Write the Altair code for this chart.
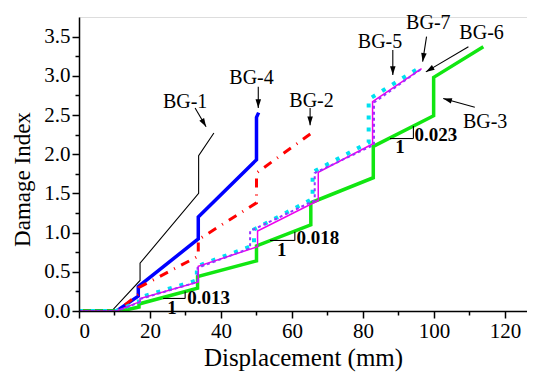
import altair as alt
import pandas as pd
import math

FONT = "'Liberation Serif', 'Times New Roman', Times, serif"

# ---------------- data ----------------
bg1_x = [0, 9.2, 17.2, 17.2, 33.7, 33.7, 38.0]
bg1_y = [0, 0, 0.39, 0.61, 1.50, 1.98, 2.27]

bg4_x = [0, 10.6, 16.7, 16.7, 33.6, 33.6, 50.0, 50.0, 50.6]
bg4_y = [0, 0, 0.19, 0.31, 0.92, 1.20, 1.93, 2.47, 2.53]

bg2_x = [0, 10.8, 16.9, 16.9, 33.6, 33.6, 50.0, 50.0, 65.5]
bg2_y = [0, 0, 0.22, 0.30, 0.70, 0.91, 1.38, 1.76, 2.27]

bg3_x = [0, 11.8, 16.9, 16.9, 33.4, 33.4, 50.0, 50.0, 65.3, 65.3, 82.9, 82.9, 99.9, 99.9, 113.9]
bg3_y = [0, 0, 0.05, 0.09, 0.29, 0.44, 0.64, 0.83, 1.10, 1.38, 1.70, 2.10, 2.49, 2.98, 3.37]

bg5_x = [0, 10.4, 16.9, 16.9, 33.2, 33.2, 49.3, 49.3, 65.8, 65.8, 81.6, 81.6, 95.8]
bg5_y = [0, 0, 0.12, 0.17, 0.39, 0.57, 0.84, 1.04, 1.43, 1.77, 2.15, 2.70, 3.10]

bg6_x = [0, 10.8, 17.0, 17.0, 33.4, 33.4, 48.2, 48.2, 66.4, 66.4, 83.1, 83.1, 96.8]
bg6_y = [0, 0, 0.11, 0.15, 0.37, 0.55, 0.80, 1.02, 1.41, 1.76, 2.12, 2.66, 3.10]

bg7_x = [0, 10.6, 17.2, 17.2, 33.6, 33.6, 50.3, 50.3, 67.4, 67.4, 82.7, 82.7, 96.5]
bg7_y = [0, 0, 0.12, 0.16, 0.37, 0.57, 0.82, 1.02, 1.41, 1.77, 2.13, 2.67, 3.09]

# labels (text, x, y) in data units
label_text = ["BG-1", "BG-4", "BG-2", "BG-5", "BG-7", "BG-6", "BG-3"]
label_x = [29.9, 48.6, 65.5, 84.8, 98.4, 113.4, 114.4]
label_y = [2.67, 2.97, 2.68, 3.43, 3.67, 3.54, 2.41]

# arrows tail -> tip in data units
arrow_x0 = [32.7, 50.5, 65.1, 88.4, 97.9, 109.7, 111.5]
arrow_y0 = [2.59, 2.86, 2.59, 3.33, 3.50, 3.37, 2.60]
arrow_x1 = [35.8, 50.5, 65.1, 88.4, 96.8, 97.7, 102.6]
arrow_y1 = [2.35, 2.59, 2.37, 3.01, 3.18, 3.05, 2.71]

# slope triangles
slope_text = ["0.013", "0.018", "0.023"]
slope_xa = [23.7, 53.8, 87.6]   # horizontal leg start
slope_xb = [29.9, 60.8, 94.2]   # horizontal leg end / vertical leg x
slope_ya = [0.16, 0.90, 2.20]   # horizontal leg y
slope_yb = [0.25, 1.01, 2.36]   # vertical leg top
slope_lx = [30.5, 61.3, 94.5]
slope_ly = [0.17, 0.93, 2.24]
one_x = [26.2, 57.1, 90.4]
one_y = [0.04, 0.78, 2.09]

x_major = [0, 20, 40, 60, 80, 100, 120]
x_minor = [10, 30, 50, 70, 90, 110]
y_major = [0, 0.5, 1.0, 1.5, 2.0, 2.5, 3.0, 3.5]
y_minor = [0.25, 0.75, 1.25, 1.75, 2.25, 2.75, 3.25]

XDOM = [0, 126.2]
YDOM = [0, 3.75]

xs = alt.Scale(domain=XDOM, nice=False, zero=False)
ys = alt.Scale(domain=YDOM, nice=False, zero=False)

no_axis = None


def series(xv, yv, color, width, dash=None):
    df = pd.DataFrame({"x": xv, "y": yv, "i": list(range(len(xv)))})
    kw = dict(color=color, strokeWidth=width, clip=True)
    if dash:
        kw["strokeDash"] = dash
    return alt.Chart(df).mark_line(**kw).encode(
        x=alt.X("x:Q", scale=xs, axis=no_axis),
        y=alt.Y("y:Q", scale=ys, axis=no_axis),
        order="i:O",
    )


lines = [
    series(bg1_x, bg1_y, "#000000", 1.1),
    series(bg4_x, bg4_y, "#0000FF", 3.5),
    series(bg2_x, bg2_y, "#FF0000", 3, [9, 7, 1, 7]),
    series(bg3_x, bg3_y, "#11E611", 3.5),
    series(bg5_x, bg5_y, "#00E0F0", 4, [4, 8]),
    series(bg7_x, bg7_y, "#EE00EE", 1.5),
    series(bg6_x, bg6_y, "#9933FF", 2, [3, 3]),
]

# axes layers
base_axis = dict(
    domainColor="black", domainWidth=1.5, tickColor="black", tickWidth=1.5,
    labelFont=FONT, labelFontSize=21, labelColor="black",
    titleFont=FONT, titleFontWeight="normal", titleColor="black",
    grid=False, zindex=1,
)

axis_df = pd.DataFrame({"x": [XDOM[0]], "y": [YDOM[0]]})
axes_major = alt.Chart(axis_df).mark_point(opacity=0).encode(
    x=alt.X("x:Q", scale=xs, title="Displacement (mm)",
            axis=alt.Axis(values=x_major, tickSize=7, orient="bottom", labelPadding=2,
                          titlePadding=4, titleFontSize=25, format="d", **base_axis)),
    y=alt.Y("y:Q", scale=ys, title="Damage Index",
            axis=alt.Axis(values=y_major, tickSize=7, orient="left", labelPadding=2,
                          titlePadding=9, titleY=162, titleFontSize=23, format=".1f",
                          **base_axis)),
)
axes_minor = alt.Chart(axis_df).mark_point(opacity=0).encode(
    x=alt.X("x:Q", scale=xs, title=None,
            axis=alt.Axis(values=x_minor, tickSize=4, orient="bottom", labels=False,
                          domain=False, tickColor="black", tickWidth=1.5, grid=False, zindex=1)),
    y=alt.Y("y:Q", scale=ys, title=None,
            axis=alt.Axis(values=y_minor, tickSize=4, orient="left", labels=False,
                          domain=False, tickColor="black", tickWidth=1.5, grid=False, zindex=1)),
)

# labels
lab_df = pd.DataFrame({"t": label_text, "x": label_x, "y": label_y})
labels = alt.Chart(lab_df).mark_text(font=FONT, fontSize=20, color="black",
                                     align="center", baseline="middle").encode(
    x=alt.X("x:Q", scale=xs, axis=no_axis), y=alt.Y("y:Q", scale=ys, axis=no_axis), text="t:N")

# arrows
arr_df = pd.DataFrame({"x0": arrow_x0, "y0": arrow_y0, "x1": arrow_x1, "y1": arrow_y1})
px_per_x = 448 / (XDOM[1] - XDOM[0])
px_per_y = 294 / (YDOM[1] - YDOM[0])
angles = []
for a, b, c, d in zip(arrow_x0, arrow_y0, arrow_x1, arrow_y1):
    dx = (c - a) * px_per_x
    dy = -(d - b) * px_per_y
    angles.append(math.degrees(math.atan2(dx, -dy)) % 360)
arr_df["ang"] = angles
arrow_lines = alt.Chart(arr_df).mark_rule(color="black", strokeWidth=1.1).encode(
    x=alt.X("x0:Q", scale=xs, axis=no_axis), y=alt.Y("y0:Q", scale=ys, axis=no_axis),
    x2="x1:Q", y2="y1:Q")
arrow_heads = alt.Chart(arr_df).mark_point(
    shape="M0,0 L-0.32,1 L0.32,1 Z", filled=True, color="black", opacity=1, size=300,
    strokeWidth=0).encode(
    x=alt.X("x1:Q", scale=xs, axis=no_axis), y=alt.Y("y1:Q", scale=ys, axis=no_axis),
    angle=alt.Angle("ang:Q", scale=None))

# slope triangles
sl_df = pd.DataFrame({"t": slope_text, "xa": slope_xa, "xb": slope_xb, "ya": slope_ya,
                      "yb": slope_yb, "lx": slope_lx, "ly": slope_ly,
                      "ox": one_x, "oy": one_y, "one": ["1", "1", "1"]})
sl_h = alt.Chart(sl_df).mark_rule(color="black", strokeWidth=1.1).encode(
    x=alt.X("xa:Q", scale=xs, axis=no_axis), x2="xb:Q", y=alt.Y("ya:Q", scale=ys, axis=no_axis))
sl_v = alt.Chart(sl_df).mark_rule(color="black", strokeWidth=1.1).encode(
    x=alt.X("xb:Q", scale=xs, axis=no_axis), y=alt.Y("ya:Q", scale=ys, axis=no_axis), y2="yb:Q")
sl_t = alt.Chart(sl_df).mark_text(font=FONT, fontSize=19, fontWeight="bold", color="black",
                                  align="left", baseline="middle").encode(
    x=alt.X("lx:Q", scale=xs, axis=no_axis), y=alt.Y("ly:Q", scale=ys, axis=no_axis), text="t:N")
sl_1 = alt.Chart(sl_df).mark_text(font=FONT, fontSize=19, fontWeight="bold", color="black",
                                  align="center", baseline="middle").encode(
    x=alt.X("ox:Q", scale=xs, axis=no_axis), y=alt.Y("oy:Q", scale=ys, axis=no_axis), text="one:N")

chart = alt.layer(
    axes_minor, axes_major, *lines, labels, arrow_lines, arrow_heads, sl_h, sl_v, sl_t, sl_1
).resolve_axis(x="independent", y="independent").properties(
    width=448, height=294,
    autosize=alt.AutoSizeParams(type="none"),
    padding={"left": 71, "top": 9, "right": 0, "bottom": 61},
).configure_view(stroke=None).configure(background="white", font=FONT).configure_axis(
    labelFont=FONT, titleFont=FONT).configure_text(font=FONT)

chart.save("out.html", embed_options={"renderer": "svg", "actions": False})
